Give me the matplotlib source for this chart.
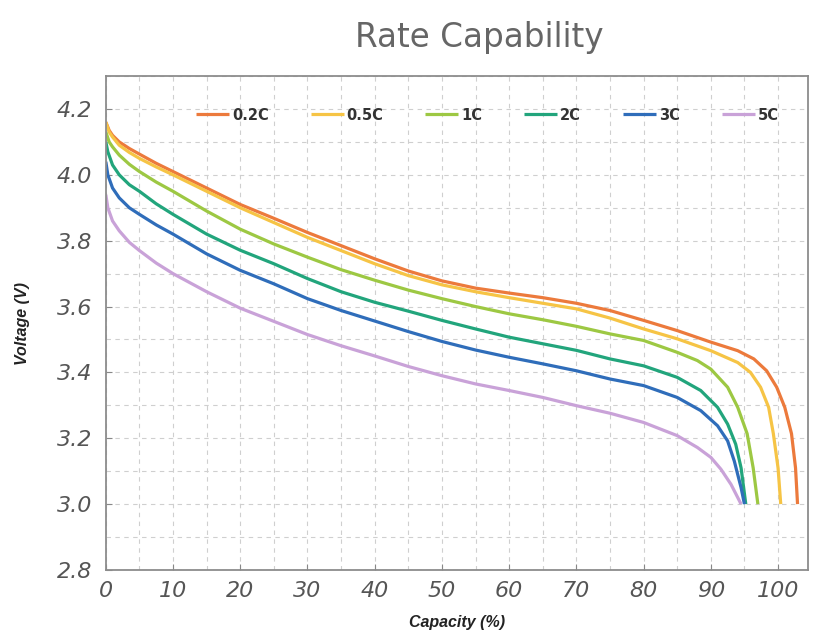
import matplotlib.pyplot as plt
from matplotlib.ticker import MultipleLocator

# Discharge curves (capacity %, voltage V)
cap_02c = [0, 0.5, 1, 2, 3.5, 5, 7.5, 10, 15, 20, 25, 30, 35, 40, 45, 50, 55, 60, 65, 70, 75, 80, 85, 90, 94, 96.4, 98.3, 99.8, 101, 102, 102.6, 102.9]
v_02c = [4.16, 4.135, 4.12, 4.10, 4.08, 4.063, 4.035, 4.01, 3.96, 3.91, 3.868, 3.825, 3.785, 3.745, 3.708, 3.678, 3.656, 3.641, 3.627, 3.61, 3.588, 3.558, 3.527, 3.492, 3.466, 3.441, 3.405, 3.355, 3.294, 3.214, 3.11, 3.0]

cap_05c = [0, 0.5, 1, 2, 3.5, 5, 7.5, 10, 15, 20, 25, 30, 35, 40, 45, 50, 55, 60, 65, 70, 75, 80, 85, 90, 94, 95.9, 97.4, 98.6, 99.3, 100, 100.4]
v_05c = [4.16, 4.13, 4.115, 4.09, 4.068, 4.05, 4.024, 4.0, 3.95, 3.90, 3.855, 3.81, 3.77, 3.73, 3.694, 3.666, 3.645, 3.627, 3.61, 3.593, 3.565, 3.532, 3.502, 3.466, 3.43, 3.40, 3.355, 3.294, 3.214, 3.11, 3.0]

cap_1c = [0, 0.5, 1, 2, 3.5, 5, 7.5, 10, 15, 20, 25, 30, 35, 40, 45, 50, 55, 60, 65, 70, 75, 80, 85, 88, 90, 92.5, 94, 95.4, 96.3, 97]
v_1c = [4.13, 4.10, 4.085, 4.06, 4.032, 4.01, 3.978, 3.95, 3.89, 3.835, 3.79, 3.75, 3.712, 3.68, 3.65, 3.624, 3.60, 3.578, 3.56, 3.54, 3.517, 3.497, 3.461, 3.436, 3.41, 3.355, 3.294, 3.214, 3.11, 3.0]

cap_2c = [0, 0.3, 1, 2, 3.5, 5, 7.5, 10, 15, 20, 25, 30, 35, 40, 45, 50, 55, 60, 65, 70, 75, 80, 85, 88.5, 91, 92.5, 93.7, 94.5, 95.2]
v_2c = [4.10, 4.07, 4.03, 4.0, 3.97, 3.95, 3.912, 3.88, 3.82, 3.771, 3.73, 3.685, 3.645, 3.613, 3.586, 3.558, 3.532, 3.507, 3.487, 3.467, 3.441, 3.42, 3.385, 3.345, 3.294, 3.243, 3.182, 3.11, 3.0]

cap_3c = [0, 0.3, 1, 2, 3.5, 5, 7.5, 10, 15, 20, 25, 30, 35, 40, 45, 50, 55, 60, 65, 70, 75, 80, 85, 88.5, 91, 92.5, 93.5, 94.5, 95]
v_3c = [4.04, 4.0, 3.96, 3.93, 3.90, 3.88, 3.848, 3.82, 3.76, 3.71, 3.669, 3.624, 3.588, 3.556, 3.524, 3.494, 3.468, 3.446, 3.426, 3.405, 3.38, 3.36, 3.324, 3.284, 3.238, 3.192, 3.13, 3.05, 3.0]

cap_5c = [0, 0.3, 1, 2, 3.5, 5, 7.5, 10, 15, 20, 25, 30, 35, 40, 45, 50, 55, 60, 65, 70, 75, 80, 85, 88, 90, 91.5, 93, 94.5]
v_5c = [3.94, 3.90, 3.86, 3.83, 3.795, 3.77, 3.732, 3.70, 3.645, 3.595, 3.555, 3.515, 3.481, 3.45, 3.418, 3.39, 3.365, 3.345, 3.324, 3.299, 3.276, 3.248, 3.208, 3.172, 3.142, 3.106, 3.06, 3.0]

etiquetas = ['0.2C', '0.5C', '1C', '2C', '3C', '5C']
colores = ['#EC7A3C', '#F6C445', '#9DC843', '#22A57C', '#2F6DBA', '#C9A2D8']
series = [(cap_02c, v_02c), (cap_05c, v_05c), (cap_1c, v_1c),
          (cap_2c, v_2c), (cap_3c, v_3c), (cap_5c, v_5c)]

plt.rcParams['font.family'] = ['DejaVu Sans']

fig = plt.figure(figsize=(8.14, 6.34), dpi=100)
ax = fig.add_axes([0.130, 0.101, 0.863, 0.779])

for (x, y), lab, col in zip(series, etiquetas, colores):
    ax.plot(x, y, color=col, lw=2.3, label=lab, solid_capstyle='butt', solid_joinstyle='round')

ax.set_xlim(0, 104.5)
ax.set_ylim(2.8, 4.3)
ax.xaxis.set_major_locator(MultipleLocator(10))
ax.xaxis.set_minor_locator(MultipleLocator(5))
ax.yaxis.set_major_locator(MultipleLocator(0.2))
ax.yaxis.set_minor_locator(MultipleLocator(0.1))
ax.yaxis.set_major_formatter(plt.FormatStrFormatter('%.1f'))

ax.grid(True, which='both', color='#cfcfcf', lw=0.8, ls=(0, (4, 4)))
ax.tick_params(which='major', direction='in', length=4, color='#888888',
               labelsize=16, labelcolor='#555555')
ax.tick_params(axis='y', pad=10)
ax.tick_params(axis='x', pad=8)
ax.tick_params(which='minor', length=0)
for lbl in ax.get_xticklabels() + ax.get_yticklabels():
    lbl.set_fontstyle('italic')
for sp in ax.spines.values():
    sp.set_color('#8c8c8c')
    sp.set_linewidth(1.3)

ax.set_xlabel('Capacity (%)', fontsize=11.5, fontweight='bold', fontstyle='italic',
              color='#222222', labelpad=10, family=['Liberation Sans', 'DejaVu Sans'])
ax.set_ylabel('Voltage (V)', fontsize=11.5, fontweight='bold', fontstyle='italic',
              color='#222222', labelpad=19, family=['Liberation Sans', 'DejaVu Sans'])

leg = fig.legend(loc='center left', bbox_to_anchor=(0.2408, 0.8186), ncol=6, frameon=False,
                 prop={'weight': 'bold', 'size': 10.5}, handlelength=2.26, handletextpad=0.2,
                 columnspacing=2.88, borderpad=0, borderaxespad=0)
for t in leg.get_texts():
    t.set_color('#333333')

fig.text(0.5885, 0.926, 'Rate Capability', ha='center', va='baseline', fontsize=23.5,
         color='#666666')

fig.savefig('out.png', dpi=100)
